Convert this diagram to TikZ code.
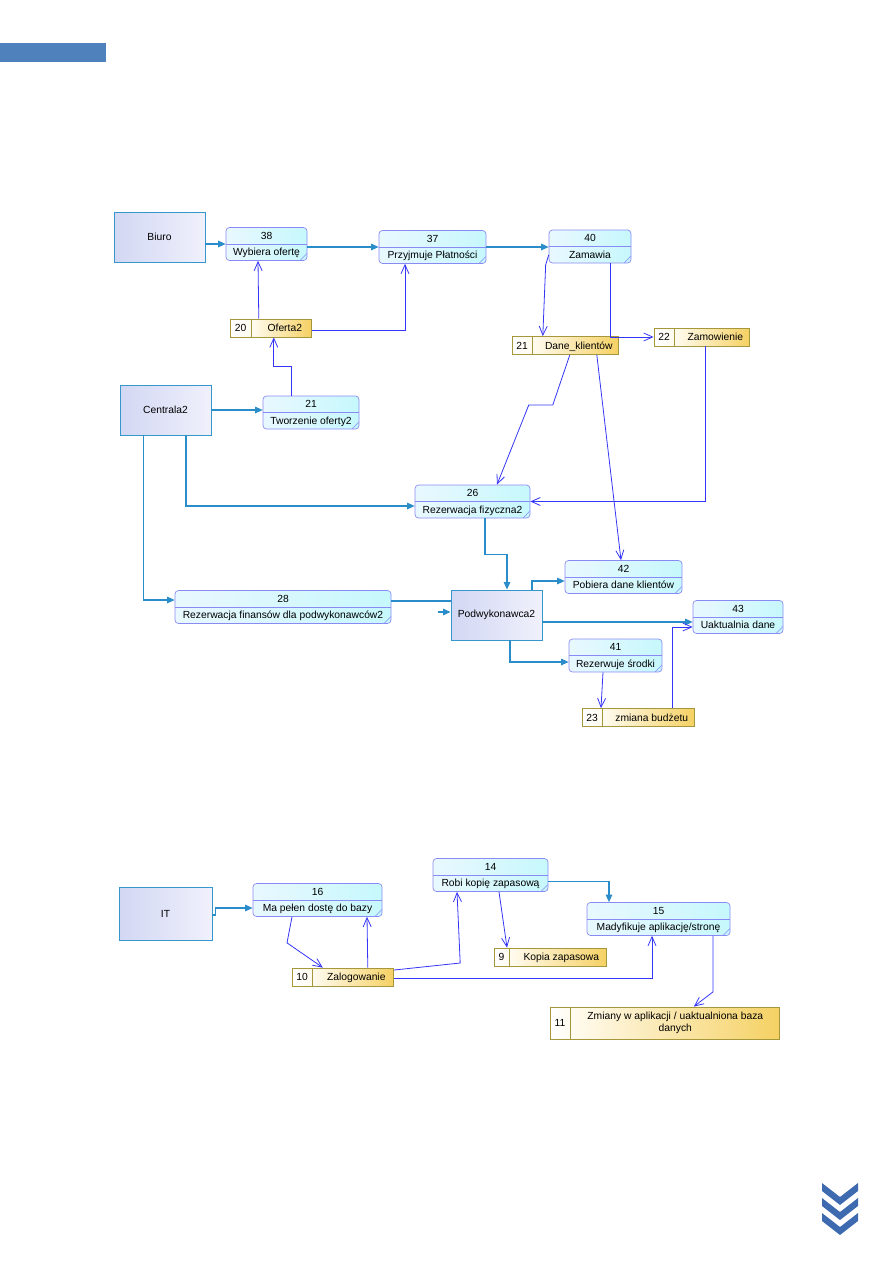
\documentclass[tikz,border=0pt]{standalone}
\usepackage{fontspec}
\setmainfont{Liberation Sans}
\usetikzlibrary{arrows.meta,positioning}

\definecolor{barblue}{HTML}{4F81BD}
\definecolor{chevblue}{HTML}{3E6AB0}
\definecolor{entline}{HTML}{3597CD}
\definecolor{entfillA}{HTML}{D2D7F3}
\definecolor{entfillB}{HTML}{F0F1FC}
\definecolor{procline}{HTML}{8A8AF5}
\definecolor{procfillA}{HTML}{E9F8FF}
\definecolor{procfillB}{HTML}{C6F8FC}
\definecolor{storeline}{HTML}{A6973A}
\definecolor{storefillA}{HTML}{FFFBF0}
\definecolor{storefillB}{HTML}{F5D163}
\definecolor{flowteal}{HTML}{2A8CC8}
\definecolor{flowblue}{HTML}{3535F8}

\newcommand{\dfdfont}{\fontsize{10.3}{12.4}\selectfont}

\begin{document}
\begin{tikzpicture}[x=1pt, y=-1pt,
    font=\dfdfont,
    entity/.style={
        draw=entline,
        line width=0.9pt,
        left color=entfillA,
        right color=entfillB,
        minimum width=91,
        minimum height=50,
        inner sep=0pt
    },
    proc/.style={
        draw=procline,
        line width=0.7pt,
        rounded corners=3.5pt,
        left color=procfillA,
        right color=procfillB,
        minimum height=33,
        inner sep=0pt,
        path picture={
            \draw[procline, line width=0.7pt]
            (path picture bounding box.west) -- (path picture bounding box.east);
            \draw[procline, line width=0.4pt]
            ([xshift=-7pt]path picture bounding box.south east)
            -- ([yshift=7pt]path picture bounding box.south east);
        }
    },
    procid/.style={
        inner sep=0pt,
        minimum height=16.5,
        text height=7.4pt,
        text depth=0pt
    },
    proctxt/.style={
        inner sep=0pt,
        minimum height=16.5,
        text height=7.4pt,
        text depth=1pt
    },
    storeid/.style={
        draw=storeline,
        line width=0.8pt,
        left color=white,
        right color=storefillA,
        minimum height=18,
        inner sep=0pt,
        text height=7.4pt,
        text depth=0pt
    },
    storetxt/.style={
        draw=storeline,
        line width=0.8pt,
        left color=storefillA,
        right color=storefillB,
        minimum height=18,
        inner sep=0pt,
        text height=7.4pt,
        text depth=0pt
    },
    eflow/.style={
        draw=flowteal,
        line width=1.1pt,
        -{Triangle[length=7.5pt,width=6.5pt]}
    },
    dflow/.style={
        draw=flowblue,
        line width=0.8pt,
        -{Straight Barb[length=9pt,width=8pt]}
    }
]
\useasboundingbox (0,0) rectangle (893,1263);

\fill[barblue] (0,43) rectangle (106,62);

\node[entity] (biuro) at (159.5,237) {Biuro};
\node[entity] (centrala) at (165.5,410) {Centrala2};
\node[entity] (podw) at (496.5,615) {Podwykonawca2};
\node[entity, minimum width=93, minimum height=53] (it) at (165.5,913.5) {IT};

\node[proc, minimum width=81] (p38) at (266.5,244) {};
\node[procid, above=0pt of p38.center] (p38id) {38};
\node[proctxt, below=0pt of p38.center] (p38txt) {Wybiera ofertę};

\node[proc, minimum width=107] (p37) at (432.5,247) {};
\node[procid, above=0pt of p37.center] (p37id) {37};
\node[proctxt, below=0pt of p37.center] (p37txt) {Przyjmuje Płatności};

\node[proc, minimum width=82] (p40) at (590,246.5) {};
\node[procid, above=0pt of p40.center] (p40id) {40};
\node[proctxt, below=0pt of p40.center] (p40txt) {Zamawia};

\node[proc, minimum width=96] (p21) at (311,412.5) {};
\node[procid, above=0pt of p21.center] (p21id) {21};
\node[proctxt, below=0pt of p21.center] (p21txt) {Tworzenie oferty2};

\node[proc, minimum width=115] (p26) at (472.5,501.5) {};
\node[procid, above=0pt of p26.center] (p26id) {26};
\node[proctxt, below=0pt of p26.center] (p26txt) {Rezerwacja fizyczna2};

\node[proc, minimum width=117] (p42) at (623.5,577) {};
\node[procid, above=0pt of p42.center] (p42id) {42};
\node[proctxt, below=0pt of p42.center] (p42txt) {Pobiera dane klientów};

\node[proc, minimum width=90] (p43) at (738,617) {};
\node[procid, above=0pt of p43.center] (p43id) {43};
\node[proctxt, below=0pt of p43.center] (p43txt) {Uaktualnia dane};

\node[proc, minimum width=216] (p28) at (283,607) {};
\node[procid, above=0pt of p28.center] (p28id) {28};
\node[proctxt, below=0pt of p28.center] (p28txt) {Rezerwacja finansów dla podwykonawców2};

\node[proc, minimum width=93] (p41) at (615.5,655.5) {};
\node[procid, above=0pt of p41.center] (p41id) {41};
\node[proctxt, below=0pt of p41.center] (p41txt) {Rezerwuje środki};

\node[proc, minimum width=129] (p16) at (317.5,900) {};
\node[procid, above=0pt of p16.center] (p16id) {16};
\node[proctxt, below=0pt of p16.center] (p16txt) {Ma pełen dostę do bazy};

\node[proc, minimum width=115] (p14) at (490.5,875) {};
\node[procid, above=0pt of p14.center] (p14id) {14};
\node[proctxt, below=0pt of p14.center] (p14txt) {Robi kopię zapasową};

\node[proc, minimum width=143] (p15) at (658.5,919) {};
\node[procid, above=0pt of p15.center] (p15id) {15};
\node[proctxt, below=0pt of p15.center] (p15txt) {Madyfikuje aplikację/stronę};

\node[storeid, minimum width=21] (d20id) at (240.5,328) {20};
\node[storetxt, minimum width=60, right=0pt of d20id] (d20) {\hspace{6pt}Oferta2};

\node[storeid, minimum width=20] (d21id) at (522,345.5) {21};
\node[storetxt, minimum width=86, right=0pt of d21id] (d21) {\hspace{6pt}Dane\_klientów};

\node[storeid, minimum width=20] (d22id) at (664,337) {22};
\node[storetxt, minimum width=75, right=0pt of d22id] (d22) {\hspace{6pt}Zamowienie};

\node[storeid, minimum width=20] (d23id) at (592,717.5) {23};
\node[storetxt, minimum width=92, right=0pt of d23id] (d23) {\hspace{6pt}zmiana budżetu};

\node[storeid, minimum width=20] (d10id) at (302,977) {10};
\node[storetxt, minimum width=81, right=0pt of d10id] (d10) {\hspace{6pt}Zalogowanie};

\node[storeid, minimum width=15] (d9id) at (501.5,957) {9};
\node[storetxt, minimum width=97, right=0pt of d9id] (d9) {\hspace{6pt}Kopia zapasowa};

\node[storeid, minimum width=20, minimum height=32] (d11id) at (560,1023) {11};
\node[storetxt, minimum width=209, minimum height=32,
    text height={}, text depth={}, align=center,
    right=0pt of d11id] (d11)
{Zmiany w aplikacji / uaktualniona baza\\danych};

\draw[eflow] (biuro.east |- p38.west) -- (p38.west);
\draw[eflow] (p38.east |- p37.west) -- (p37.west);
\draw[eflow] (p37.east) -- (p37.east -| p40.west);
\draw[eflow] (centrala.east) -- (centrala.east -| p21.west);
\draw[eflow] ([xshift=20.5pt]centrala.south) |- ([yshift=-4.5pt]p26.west);
\draw[eflow] ([xshift=-22pt]centrala.south) |- ([yshift=7pt]p28.west);
\draw[eflow, -] ([yshift=6pt]p28.east) -- ++(60,0);
\draw[eflow] ([xshift=-13pt,yshift=3pt]podw.west) -- ([yshift=3pt]podw.west);
\draw[eflow] ([xshift=12.5pt]p26.south) -- ++(0,36) -| ([xshift=10.5pt]podw.north);
\draw[eflow] ([xshift=35.5pt]podw.north) |- ([yshift=-4pt]p42.west);
\draw[eflow] ([yshift=-7pt]podw.east) -- ([yshift=-7pt]podw.east -| p43.west);
\draw[eflow] ([xshift=13.5pt]podw.south) |- ([yshift=-6.5pt]p41.west);
\draw[eflow] ([yshift=-1.5pt]it.east) -- ++(3,0) |- ([yshift=-8pt]p16.west);
\draw[eflow] ([yshift=-6.5pt]p14.east) -| ([xshift=-49.5pt]p15.north);

\draw[dflow] ([xshift=-23pt]d20.north) -- ([xshift=-8.5pt]p38.south);
\draw[dflow] ([yshift=-2pt]d20.east) -| ([xshift=-27.5pt]p37.south);
\draw[dflow] ([xshift=-20pt]p21.north) -- ++(0,-29) -| ([xshift=-8pt]d20.south);
\draw[dflow] ([yshift=-8.5pt]p40.west) -- ++(-3,10) -- ([xshift=-33pt]d21.north);
\draw[dflow] ([xshift=20pt]p40.south) |- (d22id.west);
\draw[dflow] ([xshift=-6pt]d21.south) -- ++(-17,50) -- ++(-24,0) -- ([xshift=24.5pt]p26.north);
\draw[dflow] ([xshift=21pt]d21.south) -- ([xshift=-2.5pt]p42.north);
\draw[dflow] ([xshift=-6.5pt]d22.south) |- (p26.east);
\draw[dflow] ([xshift=-12.5pt]p41.south) -- ([xshift=9pt]d23id.north);
\draw[dflow] ([xshift=24pt]d23.north) |- ([yshift=-10pt]p43.west);
\draw[dflow] ([xshift=-25.5pt]p16.south) -- ++(-5,26) -- ([xshift=-30.5pt]d10.north);
\draw[dflow] ([xshift=14.5pt]d10.north) -- ([xshift=49.5pt]p16.south);
\draw[dflow] ([yshift=7pt]d10.east) -- ++(66,-7) -- ([xshift=-33.5pt]p14.south);
\draw[dflow] ([yshift=-1pt]d10.east) -| ([xshift=-6.5pt]p15.south);
\draw[dflow] ([xshift=8.5pt]p14.south) -- ([xshift=5.5pt]d9id.north);
\draw[dflow] ([xshift=54.5pt]p15.south) -- ++(0,56) -- ([xshift=18.5pt]d11.north);

\fill[chevblue] (822,1183) -- (840,1197) -- (858,1183) -- (858,1191)
-- (840,1205) -- (822,1191) -- cycle;
\fill[chevblue] (822,1198) -- (840,1212) -- (858,1198) -- (858,1206)
-- (840,1220) -- (822,1206) -- cycle;
\fill[chevblue] (822,1213) -- (840,1227) -- (858,1213) -- (858,1221)
-- (840,1235) -- (822,1221) -- cycle;
\end{tikzpicture}
\end{document}
